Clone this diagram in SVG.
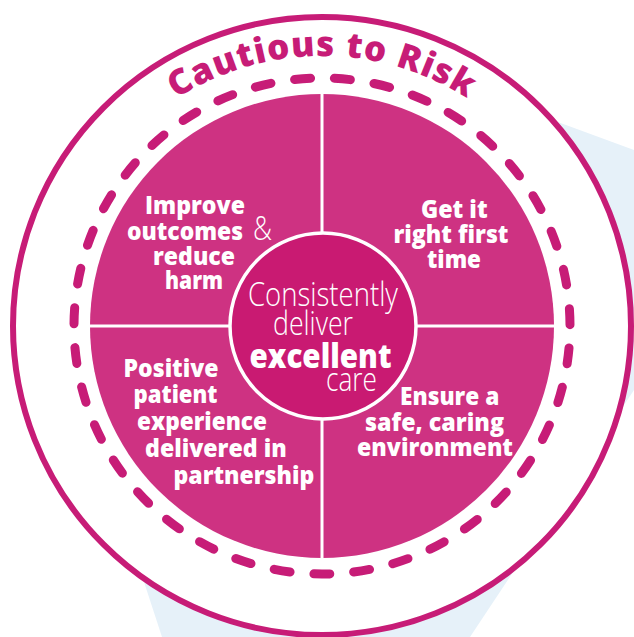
<svg xmlns="http://www.w3.org/2000/svg" width="634" height="637" viewBox="0 0 634 637">
  <defs>
    <style>
      .ring { fill: #ffffff; stroke: #c71c77; stroke-width: 6; }
      .dash { fill: none; stroke: #c71c77; stroke-width: 9; stroke-linecap: round; stroke-dasharray: 16 23.955; stroke-dashoffset: 18; }
      .sector { fill: #ce3282; }
      .divider { stroke: #ffffff; stroke-width: 3; fill: none; }
      .hub { fill: #c91a72; stroke: #ffffff; stroke-width: 3.5; }
      .q { font-family: "Open Sans", "Noto Sans", "Liberation Sans", sans-serif; font-weight: 800; font-size: 25px; fill: #ffffff; }
      .lt { font-family: "Open Sans", "Noto Sans", "Liberation Sans", sans-serif; font-weight: 300; font-size: 33px; fill: #ffffff; }
      .bd { font-family: "Open Sans", "Noto Sans", "Liberation Sans", sans-serif; font-weight: 800; font-size: 33px; fill: #ffffff; }
      .title { font-family: "Open Sans", "Noto Sans", "Liberation Sans", sans-serif; font-weight: 800; font-size: 35px; fill: #c71c77; letter-spacing: 1px; }
    </style>
    <path id="titleArc" d="M 52,326 A 270,270 0 0 1 592,326"/>
  </defs>

  <!-- pale backdrop panel behind the wheel -->
  <path id="backdrop" d="M 566,125 L 634,150 L 634,390 L 470,637 L 162,637 L 145,585 L 70,300 L 300,30 Z" fill="#e6f1f9"/>

  <!-- outer ring and dashed track -->
  <g id="outer-ring">
    <circle class="ring" cx="322" cy="326" r="309"/>
    <circle class="dash" cx="322" cy="326" r="248"/>
  </g>

  <g id="title">
    <text class="title"><textPath href="#titleArc" startOffset="50%" text-anchor="middle">Cautious to Risk</textPath></text>
  </g>

  <!-- four quadrants -->
  <g id="q-improve">
    <path class="sector" d="M 322,326 L 90,326 A 232,232 0 0 1 322,94 Z"/>
    <text class="q" x="145" y="214" textLength="100" lengthAdjust="spacingAndGlyphs">Improve</text>
    <text class="q" x="127" y="240" textLength="116" lengthAdjust="spacingAndGlyphs">outcomes</text>
    <text class="lt" x="253" y="240" textLength="19" lengthAdjust="spacingAndGlyphs">&amp;</text>
    <text class="q" x="153" y="264.5" textLength="82" lengthAdjust="spacingAndGlyphs">reduce</text>
    <text class="q" x="165" y="288.5" textLength="58" lengthAdjust="spacingAndGlyphs">harm</text>
  </g>

  <g id="q-right-first">
    <path class="sector" d="M 322,326 L 322,94 A 232,232 0 0 1 554,326 Z"/>
    <text class="q" x="421" y="218" textLength="66.6" lengthAdjust="spacingAndGlyphs">Get it</text>
    <text class="q" x="393.5" y="243" textLength="115" lengthAdjust="spacingAndGlyphs">right first</text>
    <text class="q" x="427" y="268" textLength="54" lengthAdjust="spacingAndGlyphs">time</text>
  </g>

  <g id="q-safe">
    <path class="sector" d="M 322,326 L 554,326 A 232,232 0 0 1 322,558 Z"/>
    <text class="q" x="400" y="405" textLength="99.3" lengthAdjust="spacingAndGlyphs">Ensure a</text>
    <text class="q" x="365" y="430.5" textLength="139" lengthAdjust="spacingAndGlyphs">safe, caring</text>
    <text class="q" x="357" y="456" textLength="156" lengthAdjust="spacingAndGlyphs">environment</text>
  </g>

  <g id="q-patient">
    <path class="sector" d="M 322,326 L 322,558 A 232,232 0 0 1 90,326 Z"/>
    <text class="q" x="123.5" y="376.5" textLength="95" lengthAdjust="spacingAndGlyphs">Positive</text>
    <text class="q" x="133.5" y="403" textLength="84" lengthAdjust="spacingAndGlyphs">patient</text>
    <text class="q" x="137" y="429.5" textLength="130" lengthAdjust="spacingAndGlyphs">experience</text>
    <text class="q" x="145" y="456.5" textLength="141.7" lengthAdjust="spacingAndGlyphs">delivered in</text>
    <text class="q" x="173.5" y="483.5" textLength="140.7" lengthAdjust="spacingAndGlyphs">partnership</text>
  </g>

  <!-- quadrant dividers -->
  <g id="connectors">
    <line class="divider" x1="90" y1="326" x2="554" y2="326"/>
    <line class="divider" x1="322" y1="94" x2="322" y2="558"/>
  </g>

  <!-- central hub -->
  <g id="hub">
    <circle class="hub" cx="323" cy="326" r="93"/>
    <text class="lt" x="248" y="306" textLength="150" lengthAdjust="spacingAndGlyphs">Consistently</text>
    <text class="lt" x="273" y="335" textLength="80" lengthAdjust="spacingAndGlyphs">deliver</text>
    <text class="bd" x="249.5" y="368" textLength="142" lengthAdjust="spacingAndGlyphs">excellent</text>
    <text class="lt" x="326" y="390.5" textLength="51" lengthAdjust="spacingAndGlyphs">care</text>
  </g>
</svg>
